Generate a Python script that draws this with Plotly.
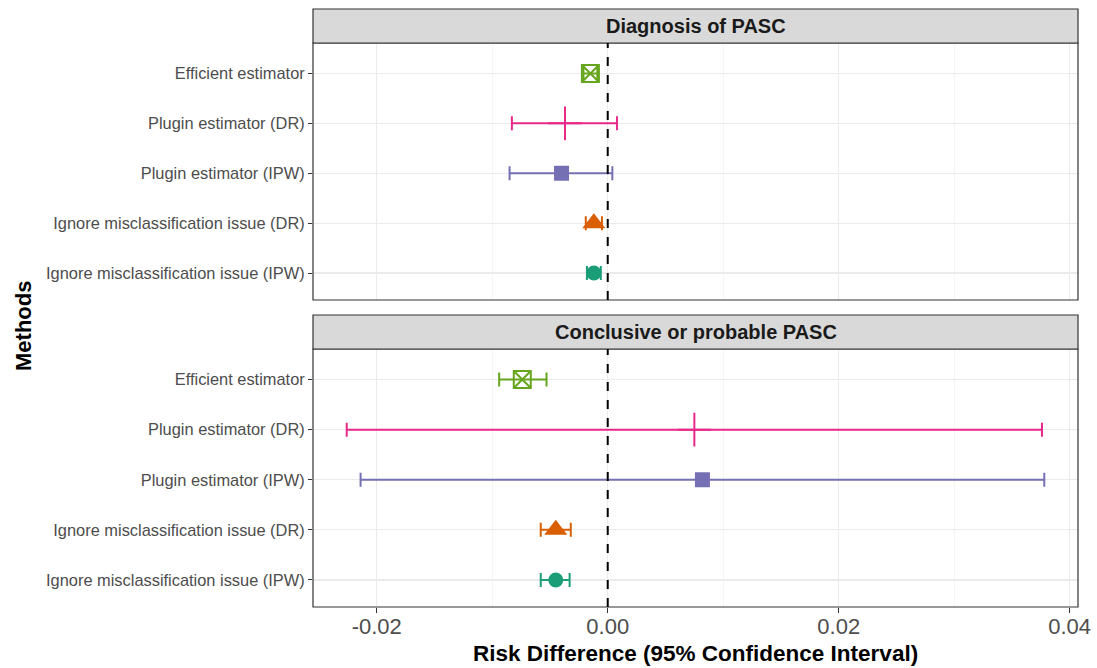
import plotly.graph_objects as go

methods = ["Efficient estimator", "Plugin estimator (DR)", "Plugin estimator (IPW)",
           "Ignore misclassification issue (DR)", "Ignore misclassification issue (IPW)"]
colors = ["#66A61E", "#E7298A", "#7570B3", "#D95F02", "#1B9E77"]
symbols = ["square-x-open", "cross-thin", "square", "triangle-up", "circle"]
sizes = [17, 24, 15, 20, 15]

panels = ["Diagnosis of PASC", "Conclusive or probable PASC"]

diag_est = [-0.0015, -0.0037, -0.0040, -0.0012, -0.0012]
diag_lo = [-0.0021, -0.0083, -0.0085, -0.0019, -0.0018]
diag_hi = [-0.0009, 0.0008, 0.0004, -0.0005, -0.0006]

conc_est = [-0.0074, 0.0075, 0.0082, -0.0045, -0.0045]
conc_lo = [-0.0094, -0.0226, -0.0214, -0.0058, -0.0058]
conc_hi = [-0.0053, 0.0376, 0.0378, -0.0032, -0.0033]

x_ticks = [-0.02, 0.00, 0.02, 0.04]
x_tick_text = ["-0.02", "0.00", "0.02", "0.04"]

FONT = "Liberation Sans, Arial, Helvetica, sans-serif"
W, H = 1097, 668

fig = go.Figure()

data = [(diag_est, diag_lo, diag_hi), (conc_est, conc_lo, conc_hi)]
axes = [("x", "y"), ("x2", "y2")]
for p, (est, lo, hi) in enumerate(data):
    xa, ya = axes[p]
    for i, m in enumerate(methods):
        sym = symbols[i]
        is_line = sym in ("square-x-open", "cross-thin")
        fig.add_trace(go.Scatter(
            x=[est[i]], y=[m], mode="markers", xaxis=xa, yaxis=ya,
            marker=dict(symbol=sym, size=sizes[i], color=colors[i],
                        line=dict(color=colors[i], width=2 if is_line else 0)),
            error_x=dict(type="data", symmetric=False,
                         array=[hi[i] - est[i]], arrayminus=[est[i] - lo[i]],
                         color=colors[i], thickness=2, width=7),
            showlegend=False, hoverinfo="skip"))

xdom = [313 / W, 1078 / W]
top_dom = [1 - 300 / H, 1 - 43 / H]
bot_dom = [1 - 607 / H, 1 - 349 / H]
xrange = [-0.02552, 0.04072]

cat_order = list(reversed(methods))
yax_common = dict(type="category", categoryorder="array", categoryarray=cat_order,
                  range=[-0.54, 4.61], showgrid=True, gridcolor="#EBEBEB", gridwidth=1.2,
                  zeroline=False, ticks="outside", ticklen=4, tickcolor="#333333",
                  tickfont=dict(family=FONT, size=16.4, color="#4D4D4D"),
                  showline=False, fixedrange=True, automargin=False)
xax_common = dict(range=xrange, tickvals=x_ticks, ticktext=x_tick_text,
                  showgrid=True, gridcolor="#EBEBEB", gridwidth=1.2, zeroline=False,
                  minor=dict(dtick=0.01, tick0=0, showgrid=True, gridcolor="#F2F2F2", gridwidth=0.8),
                  showline=False, domain=xdom, fixedrange=True, automargin=False)

fig.update_layout(
    width=W, height=H, autosize=False, margin=dict(l=0, r=0, t=0, b=0, autoexpand=False),
    paper_bgcolor="white", plot_bgcolor="white",
    font=dict(family=FONT),
    xaxis=dict(**xax_common, anchor="y", showticklabels=False, ticks=""),
    yaxis=dict(**yax_common, domain=top_dom, anchor="x"),
    xaxis2=dict(**xax_common, anchor="y2", showticklabels=True, ticks="outside",
                ticklen=5, tickcolor="#333333", ticklabelstandoff=-5,
                ticklabeloverflow="allow",
                tickfont=dict(family=FONT, size=22, color="#4D4D4D")),
    yaxis2=dict(**yax_common, domain=bot_dom, anchor="x2"),
)

shapes = []
for dom in (top_dom, bot_dom):
    shapes.append(dict(type="rect", xref="paper", yref="paper", x0=xdom[0], x1=xdom[1],
                       y0=dom[0], y1=dom[1], line=dict(color="#333333", width=1.2),
                       fillcolor="rgba(0,0,0,0)", layer="above"))
strips = [(1 - 43 / H, 1 - 9 / H), (1 - 349 / H, 1 - 315 / H)]
for (y0, y1) in strips:
    shapes.append(dict(type="rect", xref="paper", yref="paper", x0=xdom[0], x1=xdom[1],
                       y0=y0, y1=y1, line=dict(color="#333333", width=1.2),
                       fillcolor="#D9D9D9", layer="above"))
for xa, ya in (("x", "y"), ("x2", "y2")):
    shapes.append(dict(type="line", xref=xa, yref=ya + " domain", x0=0, x1=0, y0=0, y1=1,
                       line=dict(color="black", width=2, dash="dash"), layer="above"))
fig.update_layout(shapes=shapes)

annotations = []
for (y0, y1), title in zip(strips, panels):
    annotations.append(dict(text="<b>" + title + "</b>", xref="paper", yref="paper",
                            x=(xdom[0] + xdom[1]) / 2, y=(y0 + y1) / 2, showarrow=False,
                            font=dict(family=FONT, size=20, color="#1A1A1A"),
                            xanchor="center", yanchor="middle"))
annotations.append(dict(text="<b>Risk Difference (95% Confidence Interval)</b>", xref="paper",
                        yref="paper", x=(xdom[0] + xdom[1]) / 2, y=1 - 653 / H, showarrow=False,
                        font=dict(family=FONT, size=22.5, color="black"),
                        xanchor="center", yanchor="middle"))
annotations.append(dict(text="<b>Methods</b>", xref="paper", yref="paper", x=23 / W,
                        y=1 - 326 / H, showarrow=False, textangle=-90,
                        font=dict(family=FONT, size=22, color="black"),
                        xanchor="center", yanchor="middle"))
fig.update_layout(annotations=annotations)

fig.write_html("out.html",
               config={"responsive": False, "displayModeBar": False, "staticPlot": True},
               post_script="document.body.style.margin='0';document.body.style.padding='0';"
                           "document.body.style.overflow='hidden';"
                           "document.documentElement.style.overflow='hidden';")
